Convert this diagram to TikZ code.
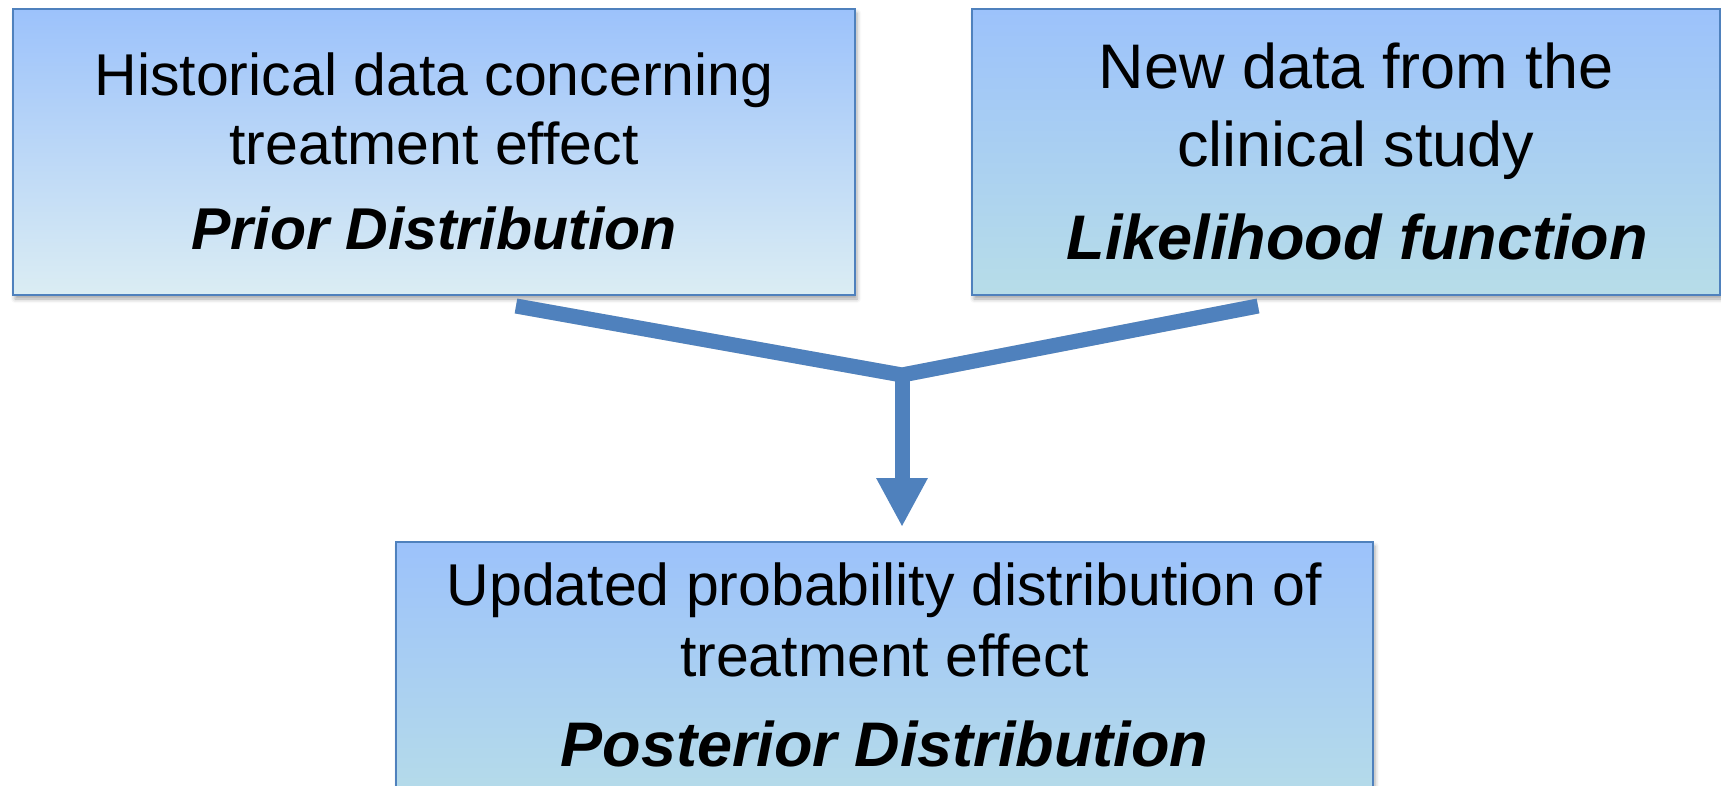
\documentclass[tikz,border=0pt]{standalone}
\usepackage{fontspec}
\setmainfont{Liberation Sans}
\usetikzlibrary{arrows.meta,shadows.blur}
\definecolor{topblue}{RGB}{156,194,251}
\definecolor{paleblue}{RGB}{219,237,243}
\definecolor{tealblue}{RGB}{183,221,232}
\definecolor{edgeblue}{RGB}{79,129,189}
\tikzset{
  box/.style={draw=edgeblue, line width=2pt, inner sep=0pt, outer sep=0pt,
    blur shadow={shadow xshift=2pt, shadow yshift=-4pt, shadow blur radius=4pt, shadow opacity=35}},
  linetxt/.style={inner sep=0pt, anchor=base, text=black},
  plainA/.style={linetxt, font=\fontsize{59}{69}\selectfont},
  boldA/.style={linetxt, font=\fontsize{59}{69}\selectfont\bfseries\itshape},
  plainB/.style={linetxt, font=\fontsize{63}{76}\selectfont},
  boldB/.style={linetxt, font=\fontsize{63}{76}\selectfont\bfseries\itshape},
  arrowline/.style={draw=edgeblue, line width=15pt, line join=miter},
  arrowshadow/.style={draw=black, opacity=0.15, line width=15pt, line join=miter}
}
\begin{document}
\begin{tikzpicture}[x=1pt,y=-1pt]
\useasboundingbox (0,0) rectangle (1721,786);
% boxes
\node[box, top color=topblue, bottom color=paleblue, minimum width=842pt, minimum height=286pt] (prior) at (434,152) {};
\node[box, top color=topblue, bottom color=tealblue, minimum width=748pt, minimum height=286pt] (lik) at (1346,152) {};
\node[box, top color=topblue, bottom color=tealblue, minimum width=977pt, minimum height=270pt] (post) at (884.5,677) {};
% texts
\node[plainA] (prior1) at (434,96) {Historical data concerning};
\node[plainA] (prior2) at (434,165) {treatment effect};
\node[boldA] (prior3) at (434,250) {Prior Distribution};
\node[plainB] (lik1) at (1356,89) {New data from the};
\node[plainB] (lik2) at (1356,167) {clinical study};
\node[boldB] (lik3) at (1357,260) {Likelihood function};
\node[plainA] (post1) at (884.5,605) {Updated probability distribution of};
\node[plainA] (post2) at (884.5,676) {treatment effect};
\node[boldB] (post3) at (884.5,766) {Posterior Distribution};
% connector
\coordinate (la) at (516,306);
\coordinate (ra) at (1258,306);
\coordinate (j) at (902,375);
\begin{scope}[shift={(2,4)}]
\draw[arrowshadow] (la) -- (j) -- (ra);
\end{scope}
\draw[arrowline] (la) -- (j) -- (ra);
\draw[arrowline, shorten >=15pt, -{Triangle[width=48pt,length=49pt]}] (j) -- (j |- post.north);
\end{tikzpicture}
\end{document}
